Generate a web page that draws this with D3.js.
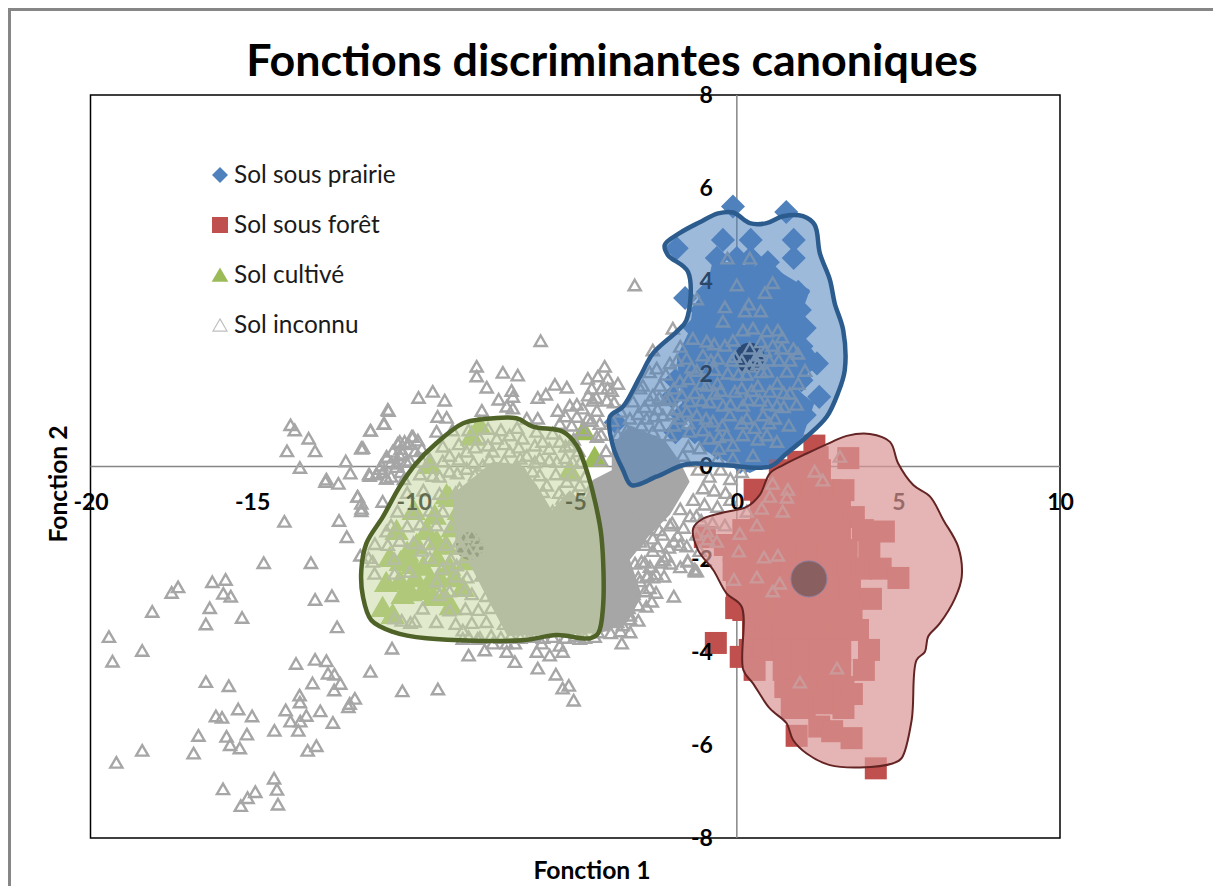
<!DOCTYPE html>
<html>
<head>
<meta charset="utf-8">
<script src="https://cdn.jsdelivr.net/npm/d3@7"></script>
<style>
body { margin: 0; background: #fff; }
text { font-family: Lato, "Open Sans", sans-serif; }
</style>
</head>
<body>
<script>
var xTicks = [-20, -15, -10, -5, 0, 5, 10];
var yTicks = [-8, -6, -4, -2, 0, 2, 4, 6, 8];
var legendLabels = ["Sol sous prairie", "Sol sous forêt", "Sol cultivé", "Sol inconnu"];

var prairie = [[-0.12,5.6],[1.53,5.48],[-0.43,4.88],[0.43,4.88],[1.76,4.88],[-1.86,4.7],
[-0.62,4.49],[0,4.49],[0.43,4.49],[0.96,4.4],[1.76,4.49],[-0.35,4.12],[0.15,4.12],[0.65,4.12],[1.1,4.12],
[-0.9,3.76],[-0.37,3.76],[0.14,3.76],[0.66,3.76],[1.18,3.76],[1.9,3.76],[-1.6,3.63],
[-1.1,3.37],[-0.63,3.37],[-0.1,3.37],[0.42,3.37],[0.94,3.37],[1.46,3.37],[1.95,3.37],
[-1.3,2.98],[-0.85,2.98],[-0.33,2.98],[0.19,2.98],[0.71,2.98],[1.23,2.98],[1.75,2.98],[2.1,2.98],
[-1.05,2.59],[-0.6,2.59],[-0.07,2.59],[0.45,2.59],[0.97,2.59],[1.49,2.59],[2.0,2.59],
[-1.5,2.23],[-0.85,2.23],[-0.33,2.23],[0.19,2.23],[0.71,2.23],[1.23,2.23],[1.75,2.23],[2.48,2.22],
[-1.9,1.86],[-1.3,1.86],[-0.8,1.86],[-0.07,1.86],[0.45,1.86],[0.97,1.86],[1.49,1.86],[2.0,1.86],
[-2.0,1.5],[-1.45,1.5],[-0.9,1.5],[-0.33,1.5],[0.19,1.5],[0.71,1.5],[1.23,1.5],[1.75,1.5],[2.55,1.5],
[-1.7,1.11],[-1.1,1.11],[-0.6,1.11],[-0.07,1.11],[0.45,1.11],[0.97,1.11],[1.49,1.11],[2.1,1.11],
[-1.9,0.74],[-1.3,0.74],[-0.8,0.74],[-0.33,0.74],[0.19,0.74],[0.71,0.74],[1.23,0.74],
[-0.6,0.4],[-0.07,0.4],[0.45,0.4],[0.97,0.4],[0.1,0.1],[0.3,0.12],[-3.75,0.95]];

var foret = [[2.4,0.45],[3.45,0.18],[1.9,0.1],[2.5,0.2],[1.33,-0.08],[1.95,-0.08],[2.57,-0.08],
[0.55,-0.5],[1.1,-0.51],[1.7,-0.51],[2.3,-0.51],[2.9,-0.51],[3.3,-0.51],
[0.75,-0.94],[1.33,-0.94],[1.95,-0.94],[2.57,-0.94],[3.19,-0.94],[3.62,-1.09],
[-0.99,-1.52],[-0.37,-1.69],[0.2,-1.37],[0.71,-1.37],[1.33,-1.37],[1.95,-1.37],[2.57,-1.37],[3.19,-1.37],[3.9,-1.37],[4.55,-1.4],
[-0.1,-1.8],[0.4,-1.8],[1.0,-1.8],[1.6,-1.8],[2.2,-1.8],[2.8,-1.8],[3.4,-1.8],[4.1,-1.8],
[-0.1,-2.23],[0.45,-2.23],[1.05,-2.23],[1.65,-2.23],[2.25,-2.23],[2.85,-2.23],[3.45,-2.23],[3.85,-2.2],[4.45,-2.2],[5.0,-2.4],
[0.0,-2.66],[0.5,-2.66],[1.1,-2.66],[1.7,-2.66],[2.3,-2.66],[2.9,-2.66],[3.5,-2.66],[4.15,-2.85],
[0.2,-3.09],[0.7,-3.09],[1.33,-3.09],[1.95,-3.09],[2.57,-3.09],[3.19,-3.09],[3.55,-3.09],[-0.02,-3.05],
[0.5,-3.52],[0.9,-3.52],[1.45,-3.52],[2.05,-3.52],[2.65,-3.52],[3.25,-3.52],[3.75,-3.52],
[0.4,-3.95],[0.85,-3.95],[1.4,-3.95],[2.0,-3.95],[2.6,-3.95],[3.2,-3.95],[4.09,-3.95],[-0.65,-3.8],[0.12,-4.1],
[0.55,-4.38],[1.45,-4.38],[2.0,-4.38],[2.6,-4.38],[3.2,-4.38],[3.93,-4.38],
[1.5,-4.75],[1.75,-4.8],[2.25,-4.75],[2.8,-4.75],[3.3,-4.75],[3.56,-4.9],
[1.7,-5.2],[2.1,-5.2],[2.7,-5.1],[3.3,-5.2],[1.85,-5.8],[2.55,-5.6],[2.95,-5.7],[3.55,-5.85],[4.3,-6.5]];

var cultive = [[-10.96,-3.09],[-10.34,-2.81],[-9.72,-2.72],[-8.98,-0.66],[-9.5,-2.51],[-10.74,-2.01],[-10.03,-2.16],
[-9.29,-2.01],[-8.36,-2.08],[-10.43,-2.51],[-8.48,-2.66],[-9.91,-1.73],[-10.53,-1.43],[-9.6,-1.43],[-7.96,0.83],
[-4.74,0.72],[-4.4,0.14],[-5.17,-0.14],[-8.89,-0.72],[-9.5,-0.01],[-9.29,-1.65],[-8.79,-1.37],[-10.65,-3.24],
[-9.2,-2.45],[-8.9,-2.2],[-9.95,-2.45],[-10.2,-1.9],[-9.0,-1.75],[-8.6,-1.0],[-8.2,0.6],[-10.0,-1.0],[-10.85,-2.55],
[-9.7,-2.2],[-9.4,-2.85],[-9.05,-2.85],[-10.1,-2.75],[-8.75,-2.45],[-9.35,-1.1],[-10.4,-2.1],[-8.85,-3.05]];

var inconnu = [[-19.43,-3.7],[-19.32,-4.23],[-18.4,-4],[-18.09,-3.16],[-17.49,-2.75],[-17.29,-2.63],[-16.23,-2.52],[-15.82,-2.47],
[-15.89,-2.77],[-15.66,-2.83],[-16.31,-3.08],[-16.43,-3.43],[-15.31,-3.29],[-14.64,-2.11],[-13.18,-2.11],[-13.05,-2.9],
[-12.53,-2.82],[-12.37,-3.49],[-10.67,-3.95],[-11.34,-4.45],[-10.35,-4.87],[-9.25,-4.83],[-13.64,-4.28],[-13.05,-4.19],
[-12.7,-4.22],[-12.65,-4.49],[-12.45,-4.51],[-12.27,-4.71],[-13.13,-4.7],[-12.46,-4.85],[-13.53,-4.96],[-13.52,-5.11],
[-11.82,-5.03],[-11.98,-5.14],[-12.02,-5.21],[-12.89,-5.3],[-13.96,-5.28],[-13.32,-5.4],[-13.81,-5.52],[-13.51,-5.52],
[-12.5,-5.55],[-13.57,-5.72],[-14.31,-5.72],[-15.43,-5.26],[-15,-5.41],[-16.12,-5.41],[-15.93,-5.44],[-15.16,-5.8],
[-16.66,-5.83],[-15.79,-5.85],[-15.68,-6.03],[-15.38,-6.1],[-16.81,-6.21],[-18.4,-6.15],[-19.2,-6.41],[-13.28,-6.15],
[-13.01,-6.05],[-15.9,-6.98],[-14.9,-7.04],[-15.14,-7.17],[-15.35,-7.34],[-14.32,-6.75],[-14.23,-6.99],[-14.2,-7.31],
[-16.43,-4.67],[-15.72,-4.76],[-14,-1.22],[-12.31,-1.2],[-12.07,-1.55],
[-13.81,0.86],[-13.68,0.75],[-13.92,0.3],[-13.25,0.57],[-13.05,0.3],[-13.52,-0.06],[-12.7,-0.31],[-12.73,-0.36],[-12.33,-0.4],
[-12.1,0.08],[-11.96,-0.18],[-11.62,0.36],[-11.57,0.37],[-11.34,0.74],[-10.91,0.89],[-10.78,1.17],[-11.74,-0.68],[-11.62,-0.83],
[-11.62,-0.99],[-11.38,-0.2],[-11.05,-0.08],[-10.85,-0.29],[-10.83,0.16],[-10.54,-0.04],[-10.43,0.21],[-10.23,0.07],[-10.49,0.46],
[-10.28,0.5],[-10.02,0.61],[-9.87,0.53],[-6.07,2.67],[-8.05,2.12],[-8.05,1.91],[-7.24,1.99],[-6.78,1.93],[-7.74,1.67],[-6.97,1.6],
[-6.93,1.47],[-7.37,1.41],[-7.12,1.26],[-6.93,1.22],[-6.16,1.45],[-5.91,1.52],[-5.63,1.73],[-5.26,1.67],[-9.85,1.45],[-9.41,1.58],
[-9.04,1.39],[-9.26,1.04],[-8.98,1.02],[-7.89,1.17],[-10.8,1.19],[-10.93,0.89],[-11.33,0.74],[-11.61,0.36],[-10.43,0.5],[-10.06,0.61],
[-10.65,0.29],[-10.34,0.25],[-10.84,0.18],[-10.12,0.1],[-10.53,0.03],[-11,-0.01],[-11.36,-0.23],[-10.84,-0.29],[-9.29,0.72],
[-11.73,-0.68],[-11.61,-0.94],[-4.09,2.12],[-4.61,1.86],[-4.3,1.91],[-3.99,1.86],[-3.68,1.75],[-4.49,1.65],[-4.18,1.65],[-3.87,1.6],
[-4.46,1.39],[-4.02,1.39],[-5.54,1.17],[-5.17,1.28],[-4.77,1.22],[-4.33,1.17],[-4.95,1.04],[-4.61,1],[-5.48,0.89],[-5.11,0.85],
[-4.24,0.89],[-4.33,0.61],[-6.16,1],[-6.5,1],[-1.95,-2.83],[-2.63,-2.94],[-3.56,-3.84],[-1.52,-2.08],[-1.3,-2.29],[-2.17,-1.97],
[-2.69,-2.19],[-2.79,-2.4],[-2.07,-1.3],[-1.83,-1.52],[-2.6,-1.58],[-3,-1.65],[-3.22,-2.72],[-3.31,-3.24],[-3.53,-3.45],
[-8.3,-4.1],[-7.8,-3.99],[-7.55,-3.84],[-7.12,-4.02],[-6.87,-4.24],[-7.12,-3.84],[-6.87,-3.84],[-6.16,-4.38],[-6.19,-4.02],
[-6.04,-3.84],[-5.79,-4.1],[-5.48,-3.89],[-5.39,-4.02],[-5.6,-4.51],[-5.2,-4.75],[-5.39,-4.81],[-5.05,-5.07],[-4.86,-3.74],
[-4.15,-3.45],[-8.02,-3.74],[-8.48,-3.74],[-6.41,-3.7],
[-11.27,-2.08],[-11.65,-1.95],[-11.21,-2.34],[-10.59,-2.34],[-10.12,-2.3],[-9.75,-1.84],[-10.43,-1.63],[-10.84,-1.43],[-9.72,-3.09],
[-8.89,-3.13],[-9.97,-3.37],[-10.37,-3.35],[-10.59,-3.3],[-8.48,-3.56],[-9.29,-2.51],[-8.67,-2.16],[-8.42,-2.7],[-8.89,-2.72],
[-9.13,-2.23],[-7.96,-2.08],[-10.96,-0.79],[-9.72,0.07],[-9.41,-0.23],[-8.89,-0.14],[-8.36,-0.08],[-8.89,0.2],[-8.36,0.29],
[-7.96,0.57],[-7.43,0.57],[-7.03,0.64],[-6.63,0.57],[-6.01,0.5],[-5.48,0.5],[-5.17,0.42],[-7.55,0.29],[-7.03,0.29],[-6.5,0.2],
[-6.1,0.14],[-5.57,0.07],[-5.08,0.07],[-7.86,-0.01],[-7.34,-0.08],[-6.81,-0.01],[-6.32,-0.14],[-6.93,-0.36],[-6.41,-0.44],
[-5.88,-0.44],[-5.26,-0.36],[-4.86,-0.44],[-7.65,-0.36],[-8.17,-0.44],[-8.58,-0.51],[-5.39,-0.72],
[-3.16,3.87],[-0.29,4.45],[0.4,4.45],[0,3.87],[1.11,3.92],[0.87,3.71],[-1.24,3.57],[-0.37,3.4],[-0.43,3.09],[0.37,3.46],
[0.25,3.31],[0.74,3.31],[0.5,2.94],[0.19,2.9],[1.27,2.9],[0.93,2.88],[-1.36,2.72],[-0.93,2.66],[-0.12,2.68],[-0.37,2.57],
[1.11,2.57],[1.39,2.51],[1.89,2.4],[-1.55,2.29],[-1.05,2.36],[-0.59,2.29],[0.4,2.51],[0.71,2.36],[-2.07,2.19],[-2.48,2.08],
[-1.24,2.03],[-0.28,1.97],[0.93,2.01],[1.55,2.01],[2.11,2.03],[-1.98,2.94],[-2.6,2.47],[-2.91,1.71],[-2.38,1.71],[-1.76,1.8],
[-0.93,1.71],[-0.06,1.58],[-0.68,1.54],[0.46,1.6],[1.02,1.58],[1.64,1.54],[-3.22,1.37],[-2.69,1.39],[-2.07,1.43],[-1.46,1.37],
[-1.08,1.39],[-0.43,1.28],[0.19,1.28],[0.71,1.39],[1.24,1.28],[-3.31,1],[-2.79,1],[-2.29,1.07],[-1.76,1],[-1.24,1.07],[-0.74,0.94],
[-0.22,1.07],[0.31,1],[0.81,1.07],[1.61,0.85],[1.18,1],[-3.68,0.64],[-3.1,0.64],[-2.6,0.72],[-2.07,0.64],[-1.46,0.72],[-0.84,0.57],
[-0.31,0.64],[0.19,0.64],[0.93,0.64],[1.24,0.5],[-1.15,0.36],[-0.12,0.42],[0.5,0.2],[-1.67,0.2],[-0.59,0.14],[-0.12,0.14],
[0.15,2.24],[0.65,2.18],[-0.06,2.33],[0.87,2.46],[0.4,2.12],
[-1.2,-0.1],[-0.85,-0.25],[-0.5,-0.1],[-0.2,-0.3],[0.15,-0.15],[-1.05,-0.5],[-0.7,-0.55],[-0.35,-0.6],[-1.35,-0.75],[-1,-0.85],
[-0.6,-0.9],[-0.2,-0.75],[-1.75,-0.95],[-1.45,-1.1],[-1.1,-1.2],[-0.75,-1.25],[-2,-1.25],[-1.65,-1.35],[-1.25,-1.5],[-0.9,-1.6],
[-2.3,-1.5],[-1.95,-1.65],[-1.55,-1.75],[-1.15,-1.85],[-2.6,-1.85],[-2.25,-2.05],[-1.75,-2.2],[-2.85,-2.1],[-2.5,-2.35],[-3,-2.5],
[-2.7,-2.65],[-1.3,-2.25],[3.19,0.18],[2.41,-0.14],[2.66,-0.33],[1.11,-0.4],[1.58,-0.53],[1.55,-0.7],[1.02,-0.68],[1.42,-1],
[0.77,-0.94],[0.31,-1],[0.62,-1.3],[-0.37,-1.3],[0.09,-1.48],[-0.93,-1.43],[-0.62,-1.65],[0.06,-1.86],[0.84,-1.99],[1.27,-1.95],
[0.62,-2.42],[-0.09,-2.47],[1.33,-2.55],[1.11,-2.72],[3.1,-4.38],[1.95,-4.68],[-1.24,-2.29],[-1.52,-2.06],
[-8.45,-1.55],[-8.2,-1.5],[-8,-1.62],[-8.55,-1.8],[-8.3,-1.85],[-8.05,-1.9],[-8.6,-1.65],[-7.9,-1.75],
[-8.8,0.75],[-8.3,0.75],[-7.7,0.78],[-7.3,0.75],[-6.8,0.8],[-6.2,0.72],[-5.7,0.68],
[-9.1,0.4],[-8.6,0.45],[-8.1,0.38],[-7.7,0.42],[-7.2,0.45],[-6.75,0.38],[-6.25,0.42],[-5.8,0.35],[-5.3,0.4],[-4.9,0.3],
[-9.5,0.12],[-9.1,0.08],[-8.6,0.12],[-8.15,0.05],[-7.65,0.12],[-7.2,0.08],[-6.7,0.14],[-6.25,0.06],[-5.8,0.1],[-5.3,0.15],[-4.85,0.05],
[-9.8,-0.2],[-9.2,-0.25],[-8.65,-0.18],[-8.1,-0.22],[-7.6,-0.2],[-7.1,-0.24],[-6.6,-0.18],[-6.1,-0.22],[-5.6,-0.2],[-5.1,-0.22],[-4.7,-0.25],
[-10.2,-0.6],[-9.7,-0.55],[-9.2,-0.62],[-8.7,-0.6],[-8.2,-0.58],[-7.8,-0.62],[-7.2,-0.6],[-6.6,-0.62],[-6,-0.58],[-5.5,-0.6],[-5,-0.62],[-4.6,-0.6],
[-10.5,-1],[-10,-1.02],[-9.5,-0.98],[-9.1,-1],[-8.6,-0.98],[-8.1,-1.02],[-5.7,-1],[-5.3,-1.02],[-4.9,-0.98],
[-10.7,-1.3],[-10.2,-1.32],[-9.8,-1.28],[-9.3,-1.3],[-8.85,-1.33],
[-11.2,-1.7],[-10.8,-1.72],[-10,-1.68],[-9.55,-1.7],[-9,-1.72],
[-11.4,-2],[-10.6,-2.02],[-9.5,-2],[-8.85,-2.03],[-8.4,-1.98],
[-8.7,-2.4],[-8.35,-2.42],[-7.9,-2.38],[-7.6,-2.4],[-9.2,-2.8],[-8.2,-2.78],[-7.75,-2.82],[-7.5,-2.8],
[-8.4,-3.1],[-8,-3.12],[-7.6,-3.08],[-7.1,-3.1],[-10.1,-3.4],[-9.3,-3.38],[-8.7,-3.42],[-8.2,-3.4],[-7.75,-3.38],[-7.2,-3.42],[-6.7,-3.4],
[-8.3,-3.7],[-7.95,-3.72],[-7.6,-3.68],[-7.3,-3.72],[-7,-3.7],[-6.7,-3.72],[-6.3,-3.68],[-6,-3.72],[-5.7,-3.7],[-5.3,-3.72],[-5,-3.68],[-4.7,-3.72],[-4.4,-3.7],
[-4.2,0.1],[-4.05,0.3],[-3.2,-1.1],[-2.75,-1.12],[-2.4,-1.08],[-1.25,-1.1],[-3.5,-1.4],[-3.1,-1.42],[-2.8,-1.38],[-2.4,-1.4],
[-3.7,-1.75],[-3.4,-1.78],[-2.85,-1.72],[-2.45,-1.75],[-2.1,-1.78],[-1.75,-1.72],[-3.5,-2.1],[-3.15,-2.12],[-2.95,-2.08],[-2.35,-2.1],[-2.05,-2.12],
[-3.4,-2.4],[-3.05,-2.42],[-2.75,-2.38],[-2.6,-2.42],[-2.25,-2.4],[-3.5,-2.75],[-3.2,-2.78],[-2.85,-2.72],[-2.5,-2.75],
[-3.7,-3.05],[-3.35,-3.08],[-3.05,-3.02],[-2.8,-3.05],[-4,-3.35],[-3.7,-3.38],[-3.3,-3.32],[-3.05,-3.35],[-4.3,-3.6],[-3.9,-3.62],[-3.6,-3.58],[-3.3,-3.6],
[-5.3,1.05],[-4.95,1.3],[-4.6,1.5],[-4.35,1.45],[-4,1.65],[-3.8,1.35],[-4.2,0.65],[-3.85,0.95],[-3.6,1.15],[-4.5,0.95],[-4.75,0.75],[-5.05,0.55],
[-10.4,0.35],[-10.15,0.45],[-10.7,0.05],[-10.4,-0.15],[-10.95,-0.15],[-11.15,-0.2],[-10.7,-0.25],[-10.3,-0.3],[-9.95,0.3],[-9.75,0.35],
[-3,1.65],[-2.6,1.5],[-2.2,1.4],[-2.85,1.25],[-2.45,1.2],[-1.9,1.2],[-3.4,0.75],[-2.95,0.85],[-2.4,0.85],[-1.95,0.85],[-1.5,0.9],
[-2.7,2],[-2.2,1.95],[-1.85,2.25],[-1.5,1.85],[-1.1,1.75],[-0.6,1.75],[-0.2,1.3],[0.15,1.65],[0.65,1.7],[1.25,1.75],[1.9,1.75],
[1.45,1.25],[1.85,1.3],[0.55,0.8],[-0.55,0.35],[-1.5,0.4],[-0.95,1],[-0.45,0.85],[1,0.9],[0.15,0.9],[0.75,2],[0.3,1.95],[1.3,2.25],
[1.65,2.25],[-0.95,2.05],[-0.7,2.6],[-0.15,2.25],[1.4,2.75],[0.75,2.65],
[-1.7,1.5],[-1.3,1.55],[-0.85,1.35],[-0.5,1.6],[0.35,1.4],[0.95,1.3],[1.45,1.55],[-2.4,1.45],[-1.95,1.65],[-1.4,2.1],[-0.7,2.05],[0.05,1.95],
[0.55,2.25],[1.0,2.25],[1.75,2.5],[-3.05,1.1],[-2.55,1.05],[-2,1.1],[-1.55,1.15],[-1.05,0.75],[-0.55,0.6],[0.65,0.55],[-0.8,2.25],[-1.75,2.55]];

// areas where the marks overlap so much that nothing shows between them
var noyauX = [-8.8,-7.55,-6.72,-6.19,-5.73,-5.17,-4.77,-4.46,-3.87,-3.87,-3.31,-2.23,-1.76,-1.46,-2.07,-2.69,-3.31,-2.94,-3.37,-4.24,-7.1,-7.6,-8.17,-8.7];
var noyauY = [-0.6,0.1,0.05,-0.4,-0.94,-0.51,-0.79,-0.29,-0.08,0.46,0.89,0.57,0.1,-0.33,-1.04,-1.47,-2.01,-2.77,-3.35,-3.59,-3.65,-3,-2.23,-1.65];
var noyauPrairieX = [-0.74,1.24,2.26,2.04,2.04,2.26,2.66,2.04,1.86,2.4,2.04,1.42,0.4,-1.05,-1.67,-1.86,-1.46,-1.36,-0.93];
var noyauPrairieY = [4.45,4.23,3.8,3.37,2.88,2.58,2.23,1.93,1.65,1.37,0.64,0.2,-0.14,0.36,1.22,2.36,2.94,3.44,3.86];

var zonePrairieX = [-2.23,-1.76,-1.15,-0.58,-0.11,0.4,0.92,1.43,2.05,2.41,2.57,2.88,3.03,3.29,3.34,3.13,2.78,2.16,1.54,1.02,-0.42,-1.56,-2.49,-3.26,-3.52,-3.83,-3.93,-3.52,-3,-2.59,-1.87,-1.56,-1.51,-2.13];
var zonePrairieY = [4.77,5.03,5.26,5.45,5.47,5.24,5.24,5.39,5.39,5.2,4.59,4.02,3.51,2.94,2.08,1.58,1.07,0.64,0.28,0,0.03,0.05,-0.22,-0.4,-0.08,0.43,1.07,1.29,1.93,2.44,2.9,3.15,4.19,4.55];
var zoneForetX = [-1.35,-1.04,-0.42,0.3,0.71,1.02,1.43,2.16,2.88,3.4,4.12,4.74,4.99,5.46,5.98,6.39,6.85,6.96,6.75,6.28,5.92,5.82,5.56,5.41,5.1,4.84,3.81,2.88,2.16,1.74,1.54,1.02,0.5,0.2,0.15,-0.32,-0.73,-1.2];
var zoneForetY = [-1.33,-1.12,-0.99,-0.87,-0.61,-0.15,0.03,0.28,0.51,0.66,0.7,0.53,0.07,-0.4,-0.65,-1.15,-1.73,-2.37,-2.84,-3.38,-3.66,-3.99,-4.17,-5.46,-6.28,-6.39,-6.48,-6.43,-6.18,-5.89,-5.53,-5.21,-4.67,-4.38,-3.02,-2.73,-2.23,-1.8];
var zoneCultiveX = [-11.62,-11.46,-10.95,-10.43,-9.92,-9.3,-8.47,-7.85,-6.82,-6.31,-5.38,-4.96,-4.65,-4.4,-4.19,-4.14,-4.29,-4.55,-5.58,-6.62,-9.61,-10.64,-11.31,-11.57];
var zoneCultiveY = [-2.23,-1.65,-1.08,-0.43,0.07,0.5,0.93,1.02,1.04,0.86,0.75,0.46,-0.08,-0.72,-1.51,-3.02,-3.59,-3.7,-3.63,-3.74,-3.7,-3.56,-3.31,-2.8];

var centrePrairie = [0.4, 2.34];
var centreForet = [2.23, -2.42];
var centreCultive = [-8.27, -1.71];

var width = 1213, height = 886;
var svg = d3.select("body").append("svg").attr("width", width).attr("height", height).style("display", "block");

var x = d3.scaleLinear().domain([-20, 10]).range([90.5, 1060]);
var y = d3.scaleLinear().domain([-8, 8]).range([838, 95]);

// page border, only top and left show
svg.append("path").attr("d", "M9.5,886V9.5H1213").attr("fill", "none").attr("stroke", "#868686").attr("stroke-width", 3);

svg.append("text").attr("x", 612).attr("y", 76).attr("text-anchor", "middle")
   .attr("font-size", 44.8).attr("font-weight", 700).attr("fill", "#000")
   .text("Fonctions discriminantes canoniques");

svg.append("rect").attr("x", 90.5).attr("y", 95).attr("width", 969.5).attr("height", 743)
   .attr("fill", "#fff").attr("stroke", "#000").attr("stroke-width", 1.5);

function sym(type, size) { return d3.symbol().type(type).size(size)(); }
function pt(g, data, path, rot) {
    g.selectAll("path").data(data).enter().append("path")
     .attr("d", path)
     .attr("transform", function(d) { return "translate(" + x(d[0]) + "," + y(d[1]) + ")" + (rot ? " rotate(" + rot + ")" : ""); });
}
function poly(xs, ys, curve) {
    return d3.line().x(function(d) { return x(d); }).y(function(d, i) { return y(ys[i]); }).curve(curve)(xs);
}

// axes cross at 0
var axisLines = svg.append("g").attr("stroke", "#868686").attr("stroke-width", 1.5);
axisLines.append("line").attr("x1", x(-20)).attr("x2", x(10)).attr("y1", y(0)).attr("y2", y(0));
axisLines.append("line").attr("x1", x(0)).attr("x2", x(0)).attr("y1", y(-8)).attr("y2", y(8));

svg.append("path").attr("d", poly(noyauPrairieX, noyauPrairieY, d3.curveLinearClosed)).attr("fill", "#4f81bd");
pt(svg.append("g").attr("fill", "#4f81bd"), prairie, sym(d3.symbolSquare, 290), 45);
pt(svg.append("g").attr("fill", "#c0504d"), foret, sym(d3.symbolSquare, 484));
pt(svg.append("g").attr("fill", "#9bbb59"), cultive, sym(d3.symbolTriangle, 260));

svg.append("path").attr("d", poly(noyauX, noyauY, d3.curveLinearClosed)).attr("fill", "#a6a6a6");

svg.append("circle").attr("cx", x(centrePrairie[0])).attr("cy", y(centrePrairie[1])).attr("r", 15).attr("fill", "#00071d");
svg.append("circle").attr("cx", x(centreCultive[0])).attr("cy", y(centreCultive[1])).attr("r", 14).attr("fill", "#6d6d6d");

pt(svg.append("g").attr("fill", "none").attr("stroke", "#a6a6a6").attr("stroke-width", 2.4), inconnu, sym(d3.symbolTriangle, 64));

var tickFont = function(g) {
    g.select(".domain").remove();
    g.selectAll("text").attr("font-size", 23).attr("font-weight", 700).attr("fill", "#000").style("font-family", "Lato");
};
svg.append("g").attr("transform", "translate(0," + y(0) + ")")
   .call(d3.axisBottom(x).tickValues(xTicks).tickSize(0).tickPadding(27).tickFormat(function(d) { return d; })).call(tickFont);
svg.append("g").attr("transform", "translate(" + x(0) + ",0)")
   .call(d3.axisLeft(y).tickValues(yTicks).tickSize(0).tickPadding(24).tickFormat(function(d) { return d; })).call(tickFont);

svg.append("path").attr("d", poly(zonePrairieX, zonePrairieY, d3.curveCatmullRomClosed)).attr("fill", "#4f81bd").attr("fill-opacity", 0.55).attr("stroke", "#2c5c8e").attr("stroke-width", 4.5);
svg.append("path").attr("d", poly(zoneForetX, zoneForetY, d3.curveCatmullRomClosed)).attr("fill", "#d99694").attr("fill-opacity", 0.7).attr("stroke", "#632423").attr("stroke-width", 2);
svg.append("path").attr("d", poly(zoneCultiveX, zoneCultiveY, d3.curveCatmullRomClosed)).attr("fill", "#c3d69b").attr("fill-opacity", 0.5).attr("stroke", "#4f6228").attr("stroke-width", 4.5);

svg.append("circle").attr("cx", x(centreForet[0])).attr("cy", y(centreForet[1])).attr("r", 18).attr("fill", "#8a5f5f").attr("stroke", "#8a7f9f");

// legend
var legendY = [175, 225, 275, 325];
var legend = svg.append("g");
legend.selectAll("text").data(legendLabels).enter().append("text")
      .attr("x", 234).attr("y", function(d, i) { return legendY[i] + 8; })
      .attr("font-size", 24.4).attr("fill", "#1a1a1a").text(function(d) { return d; });
legend.append("path").attr("d", sym(d3.symbolSquare, 128)).attr("transform", "translate(220,175) rotate(45)").attr("fill", "#4f81bd");
legend.append("path").attr("d", sym(d3.symbolSquare, 256)).attr("transform", "translate(220,225)").attr("fill", "#c0504d");
legend.append("path").attr("d", sym(d3.symbolTriangle, 120)).attr("transform", "translate(220,277)").attr("fill", "#9bbb59");
legend.append("path").attr("d", sym(d3.symbolTriangle, 85)).attr("transform", "translate(220,327)").attr("fill", "none").attr("stroke", "#bfbfbf").attr("stroke-width", 1.2);

svg.append("text").attr("x", 592).attr("y", 879).attr("text-anchor", "middle")
   .attr("font-size", 24.7).attr("font-weight", 700).text("Fonction 1");
svg.append("text").attr("transform", "translate(67,484) rotate(-90)").attr("text-anchor", "middle")
   .attr("font-size", 24.7).attr("font-weight", 700).text("Fonction 2");
</script>
</body>
</html>
